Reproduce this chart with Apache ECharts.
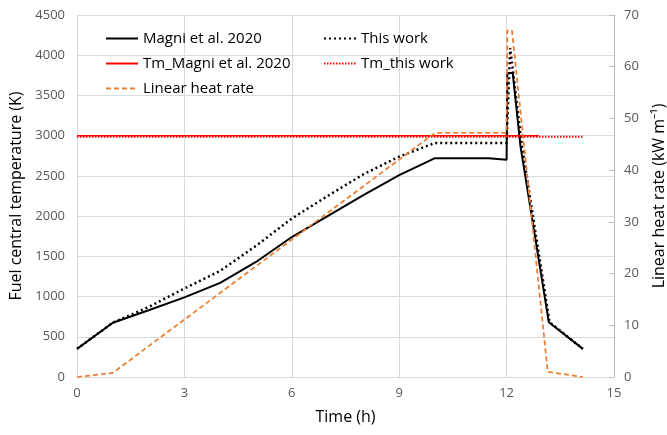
<!DOCTYPE html>
<html>
<head>
<meta charset="utf-8">
<script src="https://cdn.jsdelivr.net/npm/echarts@6/dist/echarts.min.js"></script>
<style>html,body{margin:0;padding:0;background:#fff}#c{width:667px;height:435px}</style>
</head>
<body>
<div id="c"></div>
<script>
// Time (h) and fuel central temperature (K)
var timeMagni = [0, 1, 2, 3, 4, 5, 6, 7, 8, 9, 10, 11.5, 11.52, 12.0, 12.02, 12.17, 12.39, 13.18, 14.13];
var tempMagni = [350, 675, 830, 990, 1170, 1430, 1740, 2000, 2260, 2510, 2720, 2720, 2700, 2700, 3780, 3780, 2860, 680, 350];

var timeWork = [0, 1, 2, 3, 4, 5, 6, 7, 8, 9, 10, 12.0, 12.1, 12.42, 13.2, 14.13];
var tempWork = [350, 675, 870, 1100, 1320, 1630, 1970, 2250, 2520, 2740, 2910, 2910, 4090, 2900, 680, 350];

var timeTmMagni = [0, 12.9];
var tmMagni = [3000, 3000];
var timeTmWork = [0, 14.15];
var tmWork = [2985, 2985];

// Linear heat rate (kW/m)
var timeLHR = [0, 1, 10, 12.0, 12.02, 12.15, 13.15, 14.13];
var lhr = [0, 0.8, 47.2, 47.2, 67, 67, 1, 0];

var xTicks = [0, 3, 6, 9, 12, 15];
var leftTicks = [0, 500, 1000, 1500, 2000, 2500, 3000, 3500, 4000, 4500];
var rightTicks = [0, 10, 20, 30, 40, 50, 60, 70];

function pairs(xs, ys) { return xs.map(function (x, i) { return [x, ys[i]]; }); }
function plain(v) { return String(v); }

var FONT = 'Open Sans';
var chart = echarts.init(document.getElementById('c'), null, {renderer: 'canvas'});
chart.setOption({
  animation: false,
  backgroundColor: '#fff',
  textStyle: {fontFamily: FONT},
  grid: {left: 77, right: 53, top: 15, bottom: 58, containLabel: false, outerBoundsMode: 'none'},
  legend: [{
    left: 105, top: 31, padding: 0, orient: 'vertical', itemGap: 10, itemWidth: 32, itemHeight: 14,
    itemStyle: {opacity: 0},
    textStyle: {fontFamily: FONT, fontSize: 15, color: '#000'},
    data: ['Magni et al. 2020', 'Tm_Magni et al. 2020', 'Linear heat rate']
  }, {
    left: 323, top: 31, padding: 0, orient: 'vertical', itemGap: 10, itemWidth: 32, itemHeight: 14,
    itemStyle: {opacity: 0},
    textStyle: {fontFamily: FONT, fontSize: 15, color: '#000'},
    data: ['This work', 'Tm_this work']
  }],
  xAxis: {
    type: 'value', min: xTicks[0], max: xTicks[xTicks.length - 1], interval: 3,
    name: 'Time (h)', nameLocation: 'middle', nameGap: 32,
    nameTextStyle: {fontFamily: FONT, fontSize: 16, color: '#000'},
    axisLine: {show: true, lineStyle: {color: '#D9D9D9'}},
    axisTick: {show: false},
    axisLabel: {fontFamily: FONT, fontSize: 13, color: '#595959', margin: 10, formatter: plain},
    splitLine: {show: true, lineStyle: {color: '#D9D9D9', width: 1}}
  },
  yAxis: [{
    type: 'value', min: leftTicks[0], max: leftTicks[leftTicks.length - 1], interval: 500,
    name: 'Fuel central temperature (K)', nameLocation: 'middle', nameGap: 51, nameRotate: 90,
    nameTextStyle: {fontFamily: FONT, fontSize: 16, color: '#000'},
    axisLine: {show: false},
    axisTick: {show: false},
    axisLabel: {fontFamily: FONT, fontSize: 13, color: '#595959', margin: 12, formatter: plain},
    splitLine: {show: true, lineStyle: {color: '#D9D9D9', width: 1}}
  }, {
    type: 'value', min: rightTicks[0], max: rightTicks[rightTicks.length - 1], interval: 10,
    position: 'right',
    name: 'Linear heat rate (kW m\u207B\u00B9)', nameLocation: 'middle', nameGap: 37, nameRotate: 90,
    nameTextStyle: {fontFamily: FONT, fontSize: 16, color: '#000'},
    axisLine: {show: true, lineStyle: {color: '#BFBFBF'}},
    axisTick: {show: true, inside: true, length: 5, lineStyle: {color: '#BFBFBF'}},
    axisLabel: {fontFamily: FONT, fontSize: 13, color: '#595959', margin: 10, formatter: plain},
    splitLine: {show: false}
  }],
  series: [{
    name: 'Magni et al. 2020', type: 'line', yAxisIndex: 0, symbol: 'none',
    lineStyle: {color: '#000', width: 2}, itemStyle: {color: '#000'},
    data: pairs(timeMagni, tempMagni)
  }, {
    name: 'This work', type: 'line', yAxisIndex: 0, symbol: 'none',
    lineStyle: {color: '#000', width: 2.5, type: [2, 3]}, itemStyle: {color: '#000'},
    data: pairs(timeWork, tempWork)
  }, {
    name: 'Tm_Magni et al. 2020', type: 'line', yAxisIndex: 0, symbol: 'none',
    lineStyle: {color: '#FF0000', width: 1.5}, itemStyle: {color: '#FF0000'},
    data: pairs(timeTmMagni, tmMagni)
  }, {
    name: 'Tm_this work', type: 'line', yAxisIndex: 0, symbol: 'none',
    lineStyle: {color: '#FF0000', width: 2, type: [1.5, 1.5]}, itemStyle: {color: '#FF0000'},
    data: pairs(timeTmWork, tmWork)
  }, {
    name: 'Linear heat rate', type: 'line', yAxisIndex: 1, symbol: 'none',
    lineStyle: {color: '#ED7D31', width: 1.75, type: [5, 3]}, itemStyle: {color: '#ED7D31'},
    data: pairs(timeLHR, lhr)
  }]
});
</script>
</body>
</html>
